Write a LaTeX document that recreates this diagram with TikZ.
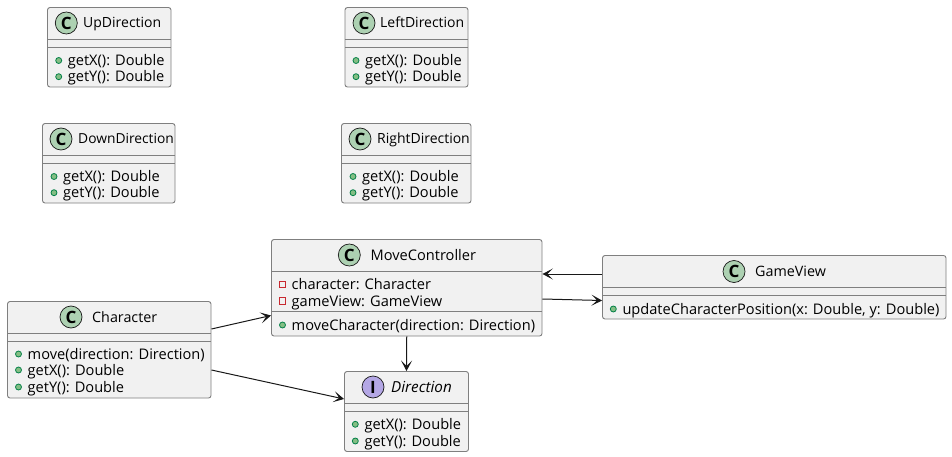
\documentclass[tikz,border=0pt]{standalone}
\usepackage{fontspec}
\setmainfont{Open Sans}
\usetikzlibrary{arrows.meta}
\definecolor{boxfill}{HTML}{F1F1F1}
\definecolor{boxline}{HTML}{7F7F7F}
\definecolor{cfill}{HTML}{ADD1B2}
\definecolor{ifill}{HTML}{B4A7E5}
\definecolor{pubfill}{HTML}{84BE84}
\definecolor{publine}{HTML}{038048}
\definecolor{privline}{HTML}{C82930}
\definecolor{edge}{HTML}{181818}
\tikzset{
  classbox/.style={draw=boxline,fill=boxfill,line width=0.9pt,rounded corners=2.5pt,inner sep=0pt},
  divider/.style={draw=boxline,line width=0.9pt},
  icon/.style={circle,draw=edge,line width=0.7pt,minimum size=22pt,inner sep=0pt,font=\fontsize{17}{17}\selectfont\bfseries},
  ctitle/.style={anchor=base west,inner sep=0pt,font=\fontsize{14}{15}\selectfont},
  ctitlewide/.style={ctitle,font=\fontsize{14.3}{15}\selectfont},
  member/.style={anchor=base west,inner sep=0pt,font=\fontsize{14.6}{15}\selectfont},
  pubdot/.style={circle,draw=publine,fill=pubfill,line width=0.8pt,minimum size=6pt,inner sep=0pt},
  privbox/.style={rectangle,draw=privline,line width=1pt,minimum size=6.5pt,inner sep=0pt},
  rel/.style={draw=edge,line width=1pt,-{Stealth[length=10.5pt,width=11pt,inset=5.5pt]}}
}
% #1 name, #2 x0, #3 y0, #4 x1, #5 y1, #6 div1, #7 div2
\newcommand{\classframe}[7]{%
  \node[classbox,minimum width={(#4-#2)*1pt},minimum height={(#5-#3)*1pt}] (#1) at ({(#2+#4)/2},{(#3+#5)/2}) {};
  \draw[divider] (#2,#6) -- (#4,#6);
  \draw[divider] (#2,#7) -- (#4,#7);
}
% #1 name, #2 dot x, #3 y, #4 text
\newcommand{\pubmember}[4]{%
  \node[pubdot] (#1d) at (#2,#3) {};
  \node[member] (#1t) at (#2+9,#3+5) {#4};
}
\newcommand{\privmember}[4]{%
  \node[privbox] (#1d) at (#2,#3) {};
  \node[member] (#1t) at (#2+9,#3+5) {#4};
}
\begin{document}
\begin{tikzpicture}[x=1pt,y=-1pt]
\useasboundingbox (0,0) rectangle (952,457);
% UpDirection
\classframe{up}{47.5}{7.5}{171}{87}{39.5}{47.5}
\node[icon,fill=cfill] (upi) at (66.3,23) {C};
\node[ctitle] (upn) at (83,28) {UpDirection};
\pubmember{upa}{58.7}{60.5}{getX(): Double}
\pubmember{upb}{58.7}{76.7}{getY(): Double}
% LeftDirection
\classframe{left}{345}{7.5}{468}{87}{39.5}{47.5}
\node[icon,fill=cfill] (lefti) at (364,23) {C};
\node[ctitle] (leftn) at (380,28) {LeftDirection};
\pubmember{lefta}{356}{60.5}{getX(): Double}
\pubmember{leftb}{356}{76.7}{getY(): Double}
% DownDirection
\classframe{down}{42.5}{123.5}{175}{203}{155.5}{163.5}
\node[icon,fill=cfill] (downi) at (61,139) {C};
\node[ctitle,font=\fontsize{13.8}{15}\selectfont] (downn) at (78,144) {DownDirection};
\pubmember{downa}{54}{176.5}{getX(): Double}
\pubmember{downb}{54}{192.7}{getY(): Double}
% RightDirection
\classframe{right}{341.5}{123.5}{471}{203}{155.5}{163.5}
\node[icon,fill=cfill] (righti) at (360,139) {C};
\node[ctitle] (rightn) at (377,144) {RightDirection};
\pubmember{righta}{353}{176.5}{getX(): Double}
\pubmember{rightb}{353}{192.7}{getY(): Double}
% MoveController
\classframe{mc}{271.5}{239.5}{542}{336}{271.5}{311}
\node[icon,fill=cfill] (mci) at (349.3,255) {C};
\node[ctitle,font=\fontsize{14.6}{15}\selectfont] (mcn) at (370.5,260) {MoveController};
\privmember{mca}{282.5}{284.5}{character: Character}
\privmember{mcb}{282.5}{301}{gameView: GameView}
\pubmember{mcc}{282.5}{325}{moveCharacter(direction: Direction)}
% Character
\classframe{ch}{7.5}{301.5}{211}{398}{333.5}{341.5}
\node[icon,fill=cfill] (chi) at (71,317) {C};
\node[ctitlewide] (chn) at (92,322) {Character};
\pubmember{cha}{18.5}{354}{move(direction: Direction)}
\pubmember{chb}{18.5}{370}{getX(): Double}
\pubmember{chc}{18.5}{387}{getY(): Double}
% Direction
\classframe{dir}{344.5}{371.5}{468.5}{451.5}{403.5}{411.5}
\node[icon,fill=ifill] (diri) at (373,387) {I};
\node[ctitle,font=\fontsize{15.2}{16}\selectfont\itshape] (dirn) at (391,392) {Direction};
\pubmember{dira}{355.3}{424.3}{getX(): Double}
\pubmember{dirb}{355.3}{441}{getY(): Double}
% GameView
\classframe{gv}{602.5}{255.5}{946}{319}{287.5}{295.5}
\node[icon,fill=cfill] (gvi) at (734,271.5) {C};
\node[ctitlewide] (gvn) at (755,276.5) {GameView};
\pubmember{gva}{613.3}{309}{updateCharacterPosition(x: Double, y: Double)}
% connectors
\draw[rel] ([yshift=20.75pt]ch.east) -- ([yshift=-27.75pt]mc.west);
\draw[rel] ([yshift=-20.25pt]ch.east) -- ([yshift=12.5pt]dir.west);
\draw[rel] (mc.south) -- (dir.north);
\draw[rel] ([yshift=13.25pt]gv.west) -- ([yshift=13.75pt]mc.east);
\draw[rel] ([yshift=-11.25pt]mc.east) -- ([yshift=-13.25pt]gv.west);
\end{tikzpicture}
\end{document}
